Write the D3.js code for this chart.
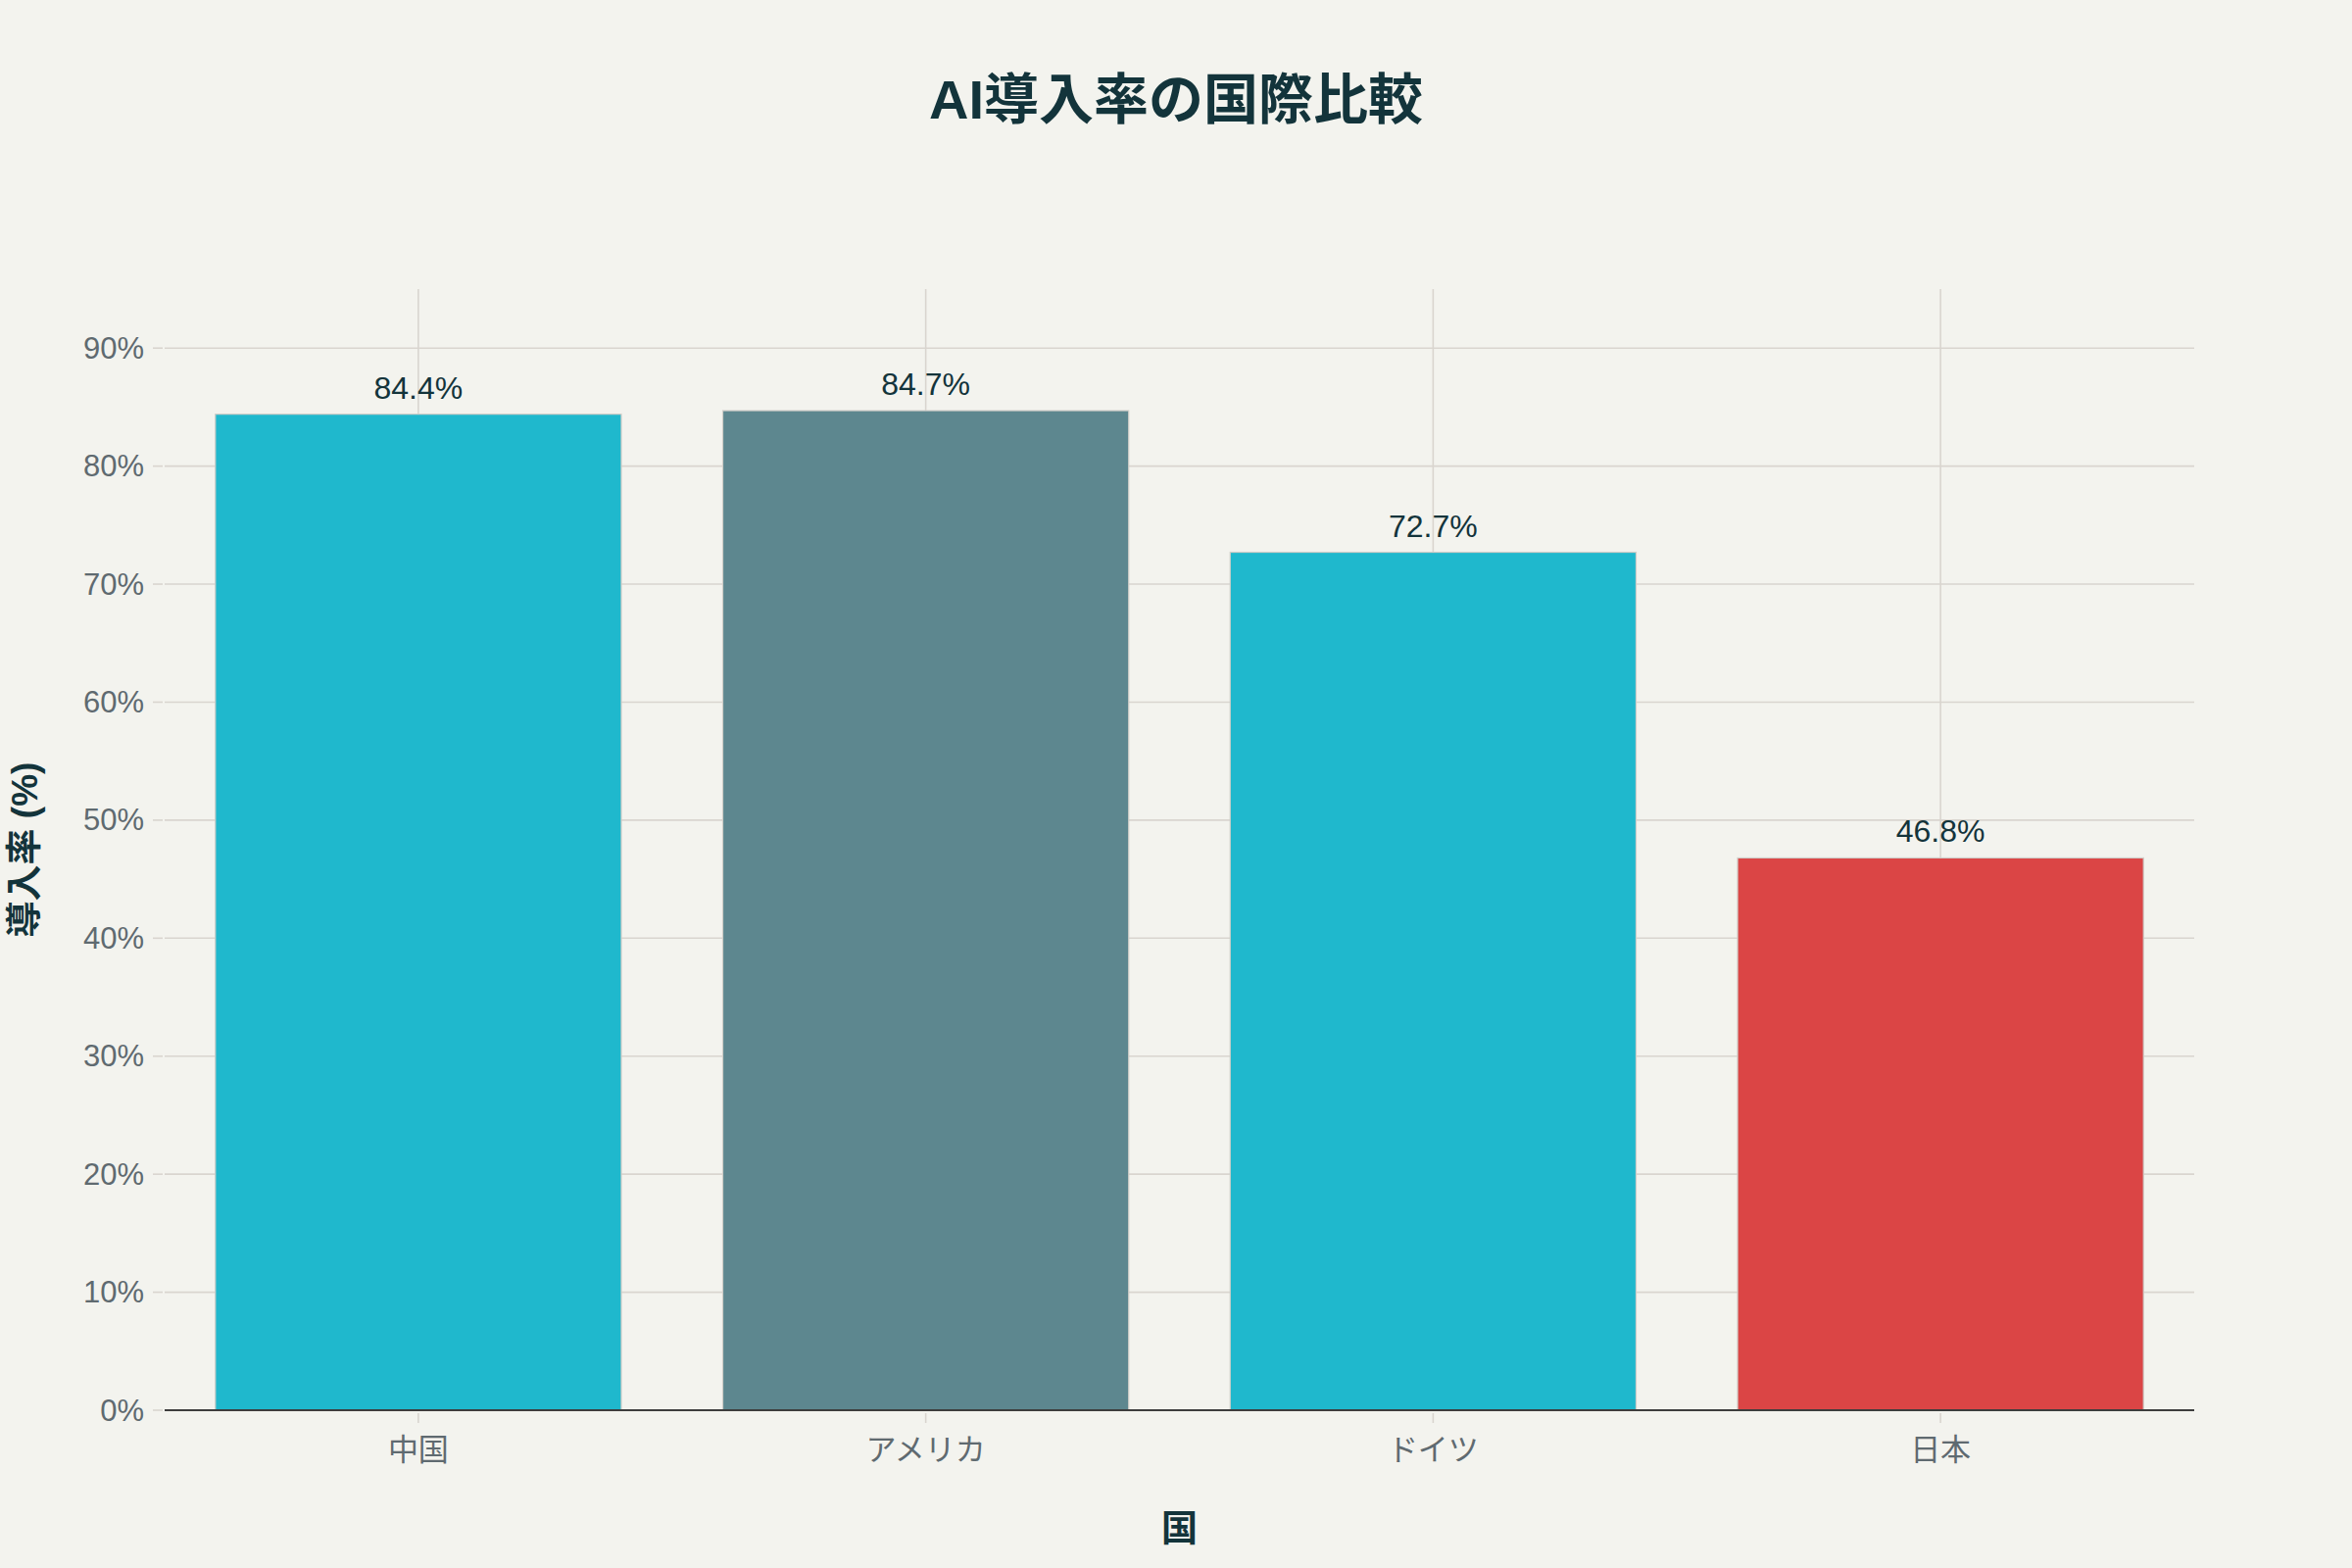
<!DOCTYPE html>
<html>
<head>
<meta charset="utf-8">
<script src="https://cdn.jsdelivr.net/npm/d3@7"></script>
<style>
  html, body { margin: 0; padding: 0; background: #f3f3ee; }
  svg { display: block; }
</style>
</head>
<body>
<svg id="chart" width="2400" height="1600"></svg>
<script>
// chart data
const countries = ['中国', 'アメリカ', 'ドイツ', '日本'];
const rates = [84.4, 84.7, 72.7, 46.8];
const yTicks = [0, 10, 20, 30, 40, 50, 60, 70, 80, 90];
const titleText = 'AI導入率の国際比較';
const xTitle = '国';
const yTitle = '導入率 (%)';

const W = 2400, H = 1600;
const margin = { top: 295, right: 161, bottom: 161, left: 168 };
const latin = '"Liberation Sans", Arial, "Noto Sans CJK JP", sans-serif';
const cjk = '"Liberation Sans", "Noto Sans CJK JP", sans-serif';
const gridColor = '#d9d5cf';
const textDark = '#13343b';
const tickGray = '#5f6a70';

const color = d3.scaleOrdinal()
  .domain(countries)
  .range(['#1FB8CD', '#5D878F', '#1FB8CD', '#DB4545']);

const svg = d3.select('#chart');
svg.append('rect').attr('width', W).attr('height', H).attr('fill', '#f3f3ee');

const x = d3.scaleBand()
  .domain(countries)
  .range([margin.left, W - margin.right])
  .paddingInner(0.2)
  .paddingOuter(0.1);

const y = d3.scaleLinear()
  .domain([0, 95])
  .range([H - margin.bottom, margin.top]);

// horizontal grid + tick dashes
const grid = svg.append('g').attr('class', 'grid');
grid.selectAll('line.h').data(yTicks).enter()
  .append('line')
  .attr('class', 'h')
  .attr('x1', margin.left).attr('x2', W - margin.right)
  .attr('y1', d => y(d)).attr('y2', d => y(d))
  .attr('stroke', gridColor).attr('stroke-width', 1.6);

grid.selectAll('line.yt').data(yTicks).enter()
  .append('line')
  .attr('class', 'yt')
  .attr('x1', margin.left - 12).attr('x2', margin.left - 2)
  .attr('y1', d => y(d)).attr('y2', d => y(d))
  .attr('stroke', gridColor).attr('stroke-width', 1.6);

// vertical grid at category centers
grid.selectAll('line.v').data(countries).enter()
  .append('line')
  .attr('class', 'v')
  .attr('x1', d => x(d) + x.bandwidth() / 2).attr('x2', d => x(d) + x.bandwidth() / 2)
  .attr('y1', y.range()[1]).attr('y2', y.range()[0])
  .attr('stroke', gridColor).attr('stroke-width', 1.6);

// bars
svg.append('g').attr('class', 'bars')
  .selectAll('rect').data(countries).enter()
  .append('rect')
  .attr('x', d => x(d))
  .attr('width', x.bandwidth())
  .attr('y', (d, i) => y(rates[i]))
  .attr('height', (d, i) => y(0) - y(rates[i]))
  .attr('fill', d => color(d))
  .attr('stroke', '#cfcdc8')
  .attr('stroke-width', 1.2);

// value labels
svg.append('g').attr('class', 'values')
  .selectAll('text').data(countries).enter()
  .append('text')
  .attr('x', d => x(d) + x.bandwidth() / 2)
  .attr('y', (d, i) => y(rates[i]) - 16)
  .attr('text-anchor', 'middle')
  .attr('font-family', latin)
  .attr('font-size', 32)
  .attr('fill', textDark)
  .text((d, i) => rates[i].toFixed(1) + '%');

// x axis line
svg.append('line')
  .attr('x1', margin.left).attr('x2', W - margin.right)
  .attr('y1', y(0)).attr('y2', y(0))
  .attr('stroke', '#3d3d3d').attr('stroke-width', 2);

// x ticks and labels
const xt = svg.append('g').attr('class', 'x-ticks');
xt.selectAll('line').data(countries).enter()
  .append('line')
  .attr('x1', d => x(d) + x.bandwidth() / 2).attr('x2', d => x(d) + x.bandwidth() / 2)
  .attr('y1', y(0) + 3).attr('y2', y(0) + 13)
  .attr('stroke', gridColor).attr('stroke-width', 1.6);
xt.selectAll('text').data(countries).enter()
  .append('text')
  .attr('x', d => x(d) + x.bandwidth() / 2)
  .attr('y', y(0) + 40)
  .attr('dominant-baseline', 'central')
  .attr('text-anchor', 'middle')
  .attr('font-family', cjk)
  .attr('font-size', 31)
  .attr('fill', tickGray)
  .text(d => d);

// y tick labels
svg.append('g').attr('class', 'y-ticks')
  .selectAll('text').data(yTicks).enter()
  .append('text')
  .attr('x', margin.left - 21)
  .attr('y', d => y(d))
  .attr('dominant-baseline', 'central')
  .attr('text-anchor', 'end')
  .attr('font-family', latin)
  .attr('font-size', 31)
  .attr('fill', tickGray)
  .text(d => d + '%');

// titles
svg.append('text')
  .attr('x', W / 2).attr('y', 101)
  .attr('text-anchor', 'middle')
  .attr('dominant-baseline', 'central')
  .attr('font-family', cjk)
  .attr('font-weight', 'bold')
  .attr('font-size', 56)
  .attr('fill', textDark)
  .text(titleText);

svg.append('text')
  .attr('x', (x.range()[0] + x.range()[1]) / 2).attr('y', 1560)
  .attr('text-anchor', 'middle')
  .attr('dominant-baseline', 'central')
  .attr('font-family', cjk)
  .attr('font-weight', 'bold')
  .attr('font-size', 37)
  .attr('fill', textDark)
  .text(xTitle);

svg.append('text')
  .attr('transform', 'translate(25,' + (y.range()[0] + y.range()[1]) / 2 + ') rotate(-90)')
  .attr('text-anchor', 'middle')
  .attr('dominant-baseline', 'central')
  .attr('font-family', cjk)
  .attr('font-weight', 'bold')
  .attr('font-size', 37)
  .attr('fill', textDark)
  .text(yTitle);
</script>
</body>
</html>
